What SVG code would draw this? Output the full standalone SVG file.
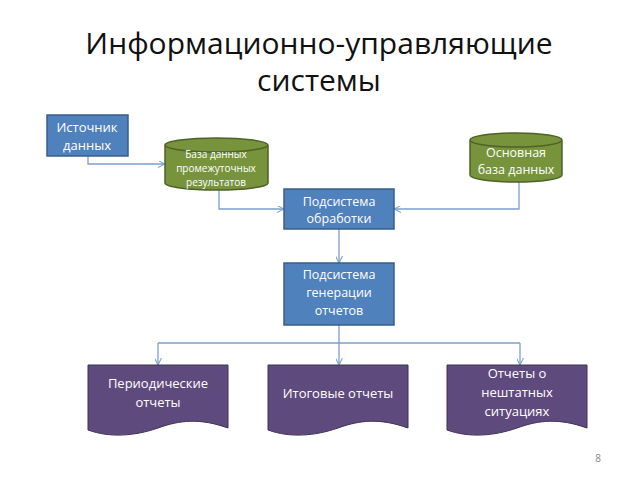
<svg xmlns="http://www.w3.org/2000/svg" width="638" height="479" viewBox="0 0 638 479">
<style>
text{font-family:"Open Sans","Liberation Sans",sans-serif;fill:#fff;text-anchor:middle}
.b{fill:#4F81BD;stroke:#385D8A;stroke-width:1.5}
.g{fill:#77933C;stroke:#4F6228;stroke-width:1.5}
.p{fill:#5F4A7E;stroke:#3F3151;stroke-width:1}
.c{fill:none;stroke:#7BA0CD;stroke-width:1.3;marker-end:url(#a)}
</style>
<defs><marker id="a" viewBox="0 0 10 10" refX="10" refY="5" markerWidth="7" markerHeight="7" orient="auto" markerUnits="userSpaceOnUse"><path d="M0,0L10,5L0,10" fill="none" stroke="#7BA0CD" stroke-width="1.5"/></marker></defs>
<rect width="638" height="479" fill="#fff"/>
<text x="319" y="54" font-size="30" style="fill:#111">Информационно-управляющие</text>
<text x="319" y="91" font-size="30" style="fill:#111">системы</text>
<g id="connectors">
<path class="c" d="M88,156V164H165"/>
<path class="c" d="M219,190V209H284"/>
<path class="c" d="M519,182V209H394"/>
<path class="c" d="M339,229V263"/>
<path d="M339,325V343M158,343H520" fill="none" stroke="#7BA0CD" stroke-width="1.3"/>
<path class="c" d="M158,343V365"/>
<path class="c" d="M339,343V365"/>
<path class="c" d="M520,343V365"/>
</g>
<g id="src"><rect class="b" x="47" y="115" width="81" height="41"/><text x="87" y="132" font-size="13">Источник</text><text x="87" y="150" font-size="13">данных</text></g>
<g id="db1"><path class="g" d="M165,145V183A51,7 0 0 0 268,183V145A51,7 0 0 0 165,145A51,7 0 0 0 268,145"/><text x="216" y="158" font-size="10">База данных</text><text x="216" y="172" font-size="10">промежуточных</text><text x="216" y="186" font-size="10">результатов</text></g>
<g id="db2"><path class="g" d="M470,140V175A46,7 0 0 0 562,175V140A46,7 0 0 0 470,140A46,7 0 0 0 562,140"/><text x="516" y="157" font-size="12.5">Основная</text><text x="516" y="174" font-size="12.5">база данных</text></g>
<g id="proc"><rect class="b" x="284" y="189" width="110" height="40"/><text x="339" y="206" font-size="12.5">Подсистема</text><text x="339" y="223" font-size="12.5">обработки</text></g>
<g id="gen"><rect class="b" x="284" y="263" width="110" height="62"/><text x="339" y="279" font-size="12.5">Подсистема</text><text x="339" y="297" font-size="12.5">генерации</text><text x="339" y="315" font-size="12.5">отчетов</text></g>
<g id="d1"><path class="p" d="M88,365H228V428C200,418 180,420 158,428C135,436 110,438 88,430Z"/><text x="158" y="388" font-size="13">Периодические</text><text x="158" y="407" font-size="13">отчеты</text></g>
<g id="d2"><path class="p" d="M268,365H408V428C380,418 360,420 338,428C315,436 290,438 268,430Z"/><text x="338" y="398" font-size="13">Итоговые отчеты</text></g>
<g id="d3"><path class="p" d="M447,365H587V428C559,418 539,420 517,428C494,436 469,438 447,430Z"/><text x="517" y="378" font-size="13">Отчеты о</text><text x="517" y="397" font-size="13">нештатных</text><text x="517" y="416" font-size="13">ситуациях</text></g>
<text x="598" y="462" font-size="10" style="fill:#888">8</text>
</svg>
